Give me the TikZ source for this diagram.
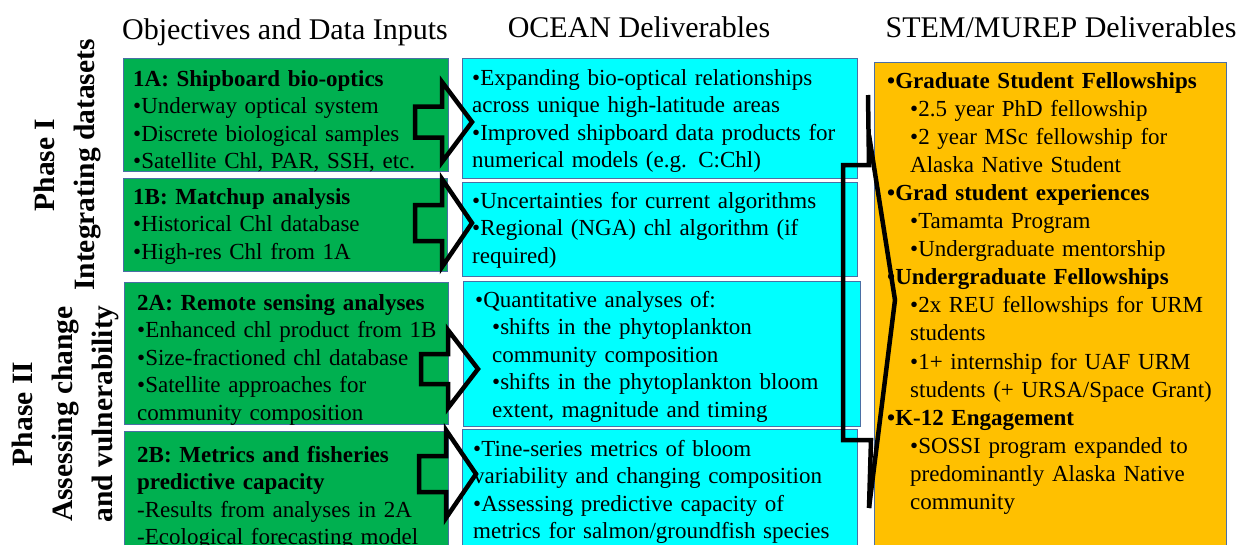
\documentclass[tikz,border=0pt]{standalone}
\usepackage{fontspec}
\setmainfont{Liberation Serif}
\usetikzlibrary{positioning}
\definecolor{InputClr}{HTML}{00B050}
\definecolor{OceanClr}{HTML}{00FFFF}
\definecolor{StemClr}{HTML}{FFC000}
\definecolor{EdgeClr}{HTML}{4A6FA5}

\newcommand{\ind}{\hspace*{23pt}}

\tikzset{
  box/.style={draw=EdgeClr,line width=1.2pt,anchor=north west,inner sep=0pt},
  boxtext/.style={anchor=base west,inner sep=0pt,text width=390pt,align=left,
    font=\fontsize{23}{27.5}\selectfont},
  stemtext/.style={boxtext,font=\fontsize{23}{28.1}\selectfont},
  colhead/.style={anchor=base,inner sep=0pt,font=\fontsize{30}{36}\selectfont},
  phase/.style={rotate=90,align=center,inner sep=0pt,
    font=\bfseries\fontsize{29.5}{40}\selectfont},
  flow/.style={line width=4.5pt,line join=miter,black},
  brace/.style={line width=4.5pt,black},
  pics/blockarrow/.style 2 args={code={
    \draw[flow] (0,-#1) -- (27,-#1) -- (27,-#2) -- (57,0) -- (27,#2)
      -- (27,#1) -- (0,#1) -- cycle;
  }}
}

\begin{document}
\begin{tikzpicture}[x=1pt,y=-1pt]
\useasboundingbox (0,0) rectangle (1239,544);
\clip (0,0) rectangle (1239,544);
\fill[white] (0,0) rectangle (1239,544);

\node[colhead] (hdInput) at (285,39) {Objectives and Data Inputs};
\node[colhead] (hdOcean) at (639,37) {OCEAN Deliverables};
\node[colhead] (hdStem) at (1061,37) {STEM/MUREP Deliverables};

\node[phase] (phaseI) at (68,165) {Phase I\\Integrating datasets};
\node[phase] (phaseII) at (65,414) {Phase II\\Assessing change\\and vulnerability};

% input boxes
\node[box,fill=InputClr,minimum width=325pt,minimum height=113pt] (in1A) at (123,58) {};
\node[box,fill=InputClr,minimum width=324pt,minimum height=93pt] (in1B) at (123,178) {};
\node[box,fill=InputClr,minimum width=324pt,minimum height=142pt] (in2A) at (124,282) {};
\node[box,fill=InputClr,minimum width=324pt,minimum height=140pt] (in2B) at (124,431) {};

% ocean boxes
\node[box,fill=OceanClr,minimum width=395pt,minimum height=120pt] (ocean1) at (462,58) {};
\node[box,fill=OceanClr,minimum width=395pt,minimum height=94pt] (ocean2) at (462,182) {};
\node[box,fill=OceanClr,minimum width=397pt,minimum height=145pt] (ocean3) at (463,281) {};
\node[box,fill=OceanClr,minimum width=395pt,minimum height=140pt] (ocean4) at (462,429) {};

\node[box,fill=StemClr,minimum width=352pt,minimum height=500pt] (stem) at (874,62) {};

\node[boxtext] (in1Atxt) at (133,86) {\textbf{1A: Shipboard bio-optics}\\
  •Underway optical system\\
  •Discrete biological samples\\
  •Satellite Chl, PAR, SSH, etc.};
\node[boxtext] (in1Btxt) at (133,204) {\textbf{1B: Matchup analysis}\\
  •Historical Chl database\\
  •High-res Chl from 1A};
\node[boxtext] (in2Atxt) at (137,310) {\textbf{2A: Remote sensing analyses}\\
  •Enhanced chl product from 1B\\
  •Size-fractioned chl database\\
  •Satellite approaches for\\
  community composition};
\node[boxtext] (in2Btxt) at (137,462) {\textbf{2B: Metrics and fisheries}\\
  \textbf{predictive capacity}\\
  -Results from analyses in 2A\\
  -Ecological forecasting model};

\node[boxtext] (ocean1txt) at (472,85) {•Expanding bio-optical relationships\\
  across unique high-latitude areas\\
  •Improved shipboard data products for\\
  numerical models (e.g. C:Chl)};
\node[boxtext] (ocean2txt) at (472,208) {•Uncertainties for current algorithms\\
  •Regional (NGA) chl algorithm (if\\
  required)};
\node[boxtext] (ocean3txt) at (475,307) {•Quantitative analyses of:\\
  \hspace*{17pt}•shifts in the phytoplankton\\
  \hspace*{17pt}community composition\\
  \hspace*{17pt}•shifts in the phytoplankton bloom\\
  \hspace*{17pt}extent, magnitude and timing};
\node[boxtext] (ocean4txt) at (473,456) {•Tine-series metrics of bloom\\
  variability and changing composition\\
  •Assessing predictive capacity of\\
  metrics for salmon/groundfish species};

\node[stemtext] (stemtxt) at (887,88) {\textbf{•Graduate Student Fellowships}\\
  \ind•2.5 year PhD fellowship\\
  \ind•2 year MSc fellowship for\\
  \ind Alaska Native Student\\
  \textbf{•Grad student experiences}\\
  \ind•Tamamta Program\\
  \ind•Undergraduate mentorship\\
  \textbf{•Undergraduate Fellowships}\\
  \ind•2x REU fellowships for URM\\
  \ind students\\
  \ind•1+ internship for UAF URM\\
  \ind students (+ URSA/Space Grant)\\
  \textbf{•K-12 Engagement}\\
  \ind•SOSSI program expanded to\\
  \ind predominantly Alaska Native\\
  \ind community};

% block arrows between the columns
\pic at (415,122) {blockarrow={15.5}{40}};
\pic at (415,223) {blockarrow={18}{44}};
\pic at (421,369) {blockarrow={15}{39}};
\pic at (419,474) {blockarrow={18}{44}};

% brace gathering the ocean deliverables
\coordinate (bTop) at (868,95);
\coordinate (bKnee) at (869,165);
\coordinate (bStep) at (843,440);
\coordinate (bTip) at (895,300);
\coordinate (bBot) at (869,508);
\draw[brace] (bTop) -- (bKnee) -| (bStep) -- (871,440) -- (bBot);
\draw[brace] (869,135) -- (bTip) -- (bBot);

\end{tikzpicture}
\end{document}
